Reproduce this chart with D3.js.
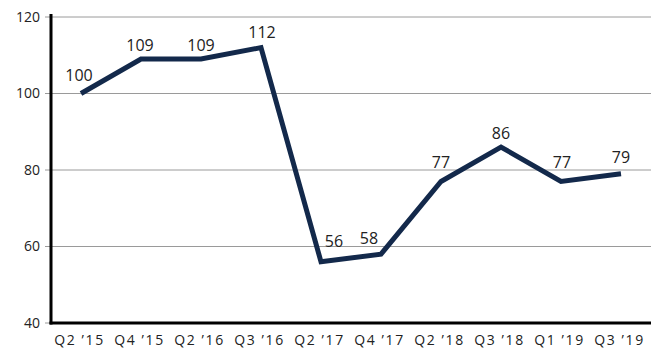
<!DOCTYPE html>
<html>
<head>
<meta charset="utf-8">
<script src="https://cdn.jsdelivr.net/npm/d3@7"></script>
<style>
  html, body { margin: 0; padding: 0; background: #fff; }
  svg { display: block; }
</style>
</head>
<body>
<svg id="chart" width="654" height="349"></svg>
<script>
const quarters = ["Q2 \u201915", "Q4 \u201915", "Q2 \u201916", "Q3 \u201916", "Q2 \u201917", "Q4 \u201917", "Q2 \u201918", "Q3 \u201918", "Q1 \u201919", "Q3 \u201919"];
const values = [100, 109, 109, 112, 56, 58, 77, 86, 77, 79];
const yTicks = [40, 60, 80, 100, 120];

// label placement nudges [dx, dy] so the numbers sit clear of the line
const labelNudge = [[-2, -13], [-1, -8], [0, -8], [1, -10], [13, -15], [-12, -10], [0, -13.5], [0, -8], [1, -13.5], [0, -11]];

const svg = d3.select("#chart");
const plotLeft = 51, plotRight = 651, plotTop = 17, plotBottom = 323;

const x = d3.scalePoint().domain(quarters).range([plotLeft, plotRight]).padding(0.5);
const y = d3.scaleLinear().domain([40, 120]).range([plotBottom, plotTop]);

// horizontal gridlines (with short outer ticks)
svg.append("g")
  .selectAll("line")
  .data(yTicks)
  .join("line")
  .attr("x1", plotLeft - 6).attr("x2", plotRight)
  .attr("y1", d => y(d)).attr("y2", d => y(d))
  .attr("stroke", "#9a9a9a").attr("stroke-width", 1);

// y axis
const yAxis = svg.append("g")
  .attr("transform", `translate(${plotLeft},0)`)
  .call(d3.axisLeft(y).tickValues(yTicks).tickSize(0).tickPadding(11));
yAxis.select(".domain").remove();
yAxis.selectAll("text")
  .attr("font-family", "'Open Sans', sans-serif")
  .attr("font-size", 14)
  .attr("fill", "#222");
svg.append("line")
  .attr("x1", plotLeft).attr("x2", plotLeft)
  .attr("y1", plotTop - 3).attr("y2", plotBottom + 1.5)
  .attr("stroke", "#000").attr("stroke-width", 3);

// x axis
const xAxis = svg.append("g")
  .attr("transform", `translate(0,${plotBottom})`)
  .call(d3.axisBottom(x).tickSize(0).tickPadding(12));
xAxis.select(".domain").remove();
xAxis.selectAll("text")
  .attr("font-family", "'Open Sans', sans-serif")
  .attr("font-size", 14)
  .attr("letter-spacing", 1.6)
  .attr("dx", -2)
  .attr("fill", "#222");
svg.append("line")
  .attr("x1", plotLeft - 1.5).attr("x2", plotRight)
  .attr("y1", plotBottom).attr("y2", plotBottom)
  .attr("stroke", "#000").attr("stroke-width", 3);

// series line
const line = d3.line().x((d, i) => x(quarters[i])).y(d => y(d));
svg.append("path")
  .datum(values)
  .attr("d", line)
  .attr("fill", "none")
  .attr("stroke", "#13294b")
  .attr("stroke-width", 5)
  .attr("stroke-linejoin", "miter");

// value labels
svg.append("g")
  .selectAll("text")
  .data(values)
  .join("text")
  .attr("x", (d, i) => x(quarters[i]) + labelNudge[i][0])
  .attr("y", (d, i) => y(d) + labelNudge[i][1])
  .attr("text-anchor", "middle")
  .attr("font-family", "'Open Sans', sans-serif")
  .attr("font-size", 16)
  .attr("fill", "#222")
  .text(d => d);
</script>
</body>
</html>
